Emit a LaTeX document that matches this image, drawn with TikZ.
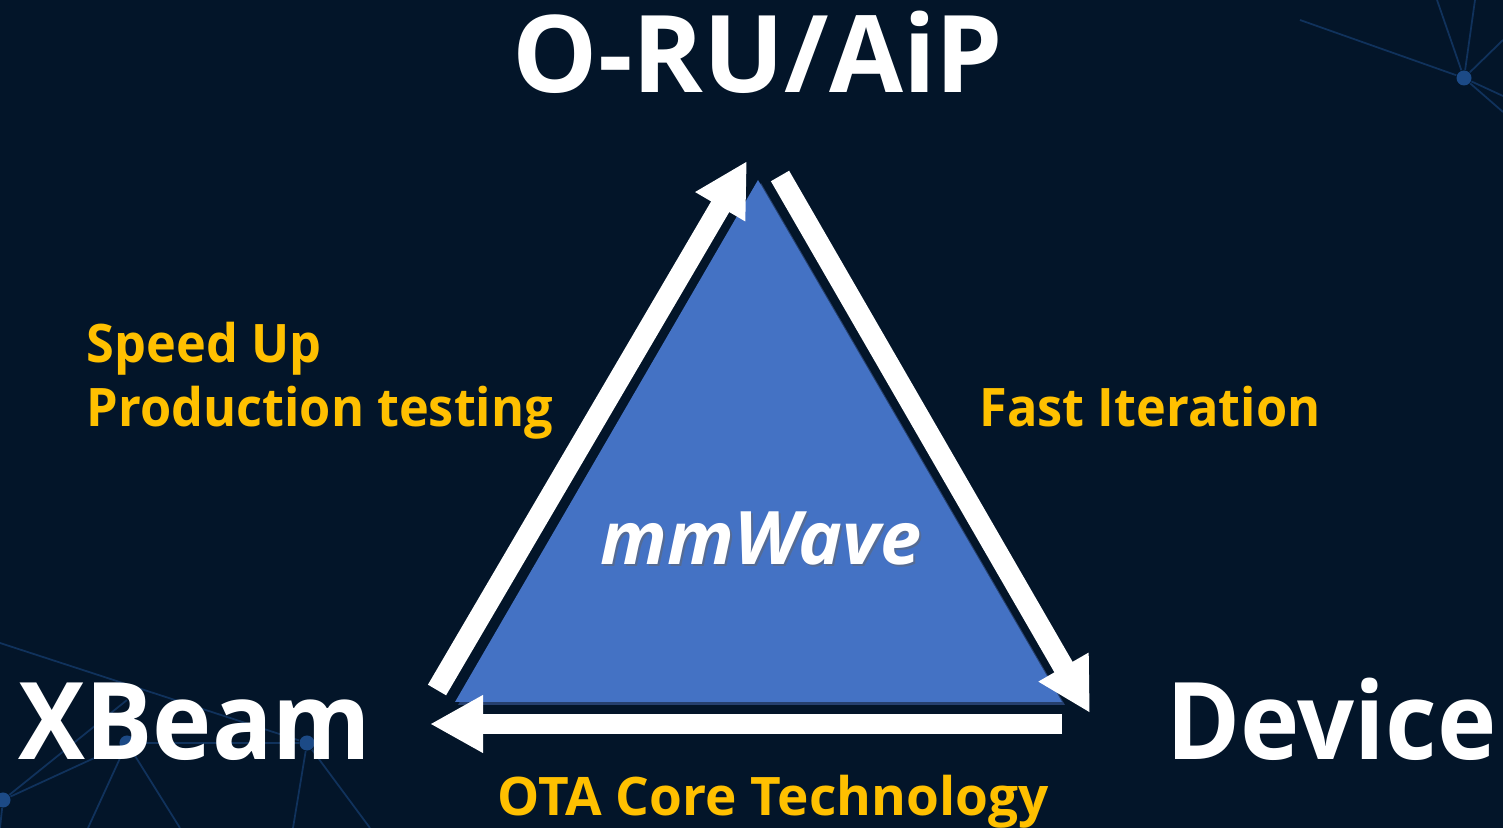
\documentclass[tikz,border=0pt]{standalone}
\usepackage{fontspec}
\setmainfont{Open Sans}
\newfontfamily\slimfont{Open Sans}[FakeStretch=0.935]
\newfontfamily\tagfont{Open Sans}[FakeStretch=0.95]
\usetikzlibrary{arrows.meta}
\definecolor{slideBg}{HTML}{031529}
\definecolor{waveBlue}{HTML}{4472C4}
\definecolor{waveShade}{HTML}{26406E}
\definecolor{tagYellow}{HTML}{FFC000}
\definecolor{netBlue}{HTML}{1C4A86}
\tikzset{
  corner/.style={text=white,font=\bfseries\fontsize{30.5}{36}\selectfont,inner sep=0pt},
  tag/.style={text=tagYellow,font=\tagfont\bfseries\fontsize{15.1}{18.2}\selectfont,inner sep=0pt,align=left},
  core/.style={font=\bfseries\itshape\fontsize{21}{25}\selectfont,inner sep=0pt},
  flow/.style={-{Triangle[length=5.3mm,width=5.4mm]},draw=white,line width=2.1mm},
  netline/.style={draw=netBlue,line width=0.5pt,opacity=0.55},
  netdot/.style={circle,fill=netBlue,inner sep=0pt,minimum size=1.5mm}
}

\begin{document}
\begin{tikzpicture}[x=0.01cm,y=-0.01cm]
\fill[slideBg] (0,0) rectangle (1503,828);
\useasboundingbox (0,0) rectangle (1503,828);

% background network
\node[netdot] (hubA) at (1464,78) {};
\node[netdot] (hubB) at (127,743) {};
\node[netdot] (hubC) at (307,743) {};
\node[netdot] (hubD) at (3,800) {};
\draw[netline] (1300,20) -- (hubA);
\draw[netline] (1437,0) -- (hubA);
\draw[netline] (1475,0) -- (hubA);
\draw[netline] (1503,40) -- (hubA);
\draw[netline] (1503,96) -- (hubA);
\draw[netline] (1503,112) -- (hubA);
\draw[netline] (0,643) -- (hubC);
\draw[netline] (hubD) -- (hubB) -- (hubC);
\draw[netline] (hubD) -- (127,700);
\draw[netline] (hubB) -- (88,828);
\draw[netline] (hubB) -- (180,828);
\draw[netline] (hubC) -- (293,828);
\draw[netline] (hubC) -- (370,828);
\draw[netline] (hubD) -- (0,828);

% triangle
\coordinate (apex) at (758,180);
\coordinate (lowL) at (455,702);
\coordinate (lowR) at (1062,702);
\fill[waveShade] ([shift={(3,3)}]apex) -- ([shift={(3,3)}]lowR) -- ([shift={(3,3)}]lowL) -- cycle;
\fill[waveBlue] (apex) -- (lowR) -- (lowL) -- cycle;

% arrows
\coordinate (tailL) at (437,690);
\coordinate (tipL) at (747,161);
\coordinate (tailR) at (780,176);
\coordinate (tipR) at (1090,713);
\coordinate (tailB) at (1062,724);
\coordinate (tipB) at (430,724);
\draw[flow] (tailL) -- (tipL);
\draw[flow] (tailR) -- (tipR);
\draw[flow,line width=1.9mm] (tailB) -- (tipB);

% labels
\node[corner,anchor=base] (oru) at (758,93) {O-RU/AiP};
\node[corner,font=\slimfont\bfseries\fontsize{30.5}{36}\selectfont,anchor=base west] (xbeam) at (18,759) {XBeam};
\node[corner,font=\slimfont\bfseries\fontsize{30.5}{36}\selectfont,anchor=base east] (device) at (1497,759) {Device};
\node[tag,anchor=base west] (speed) at (86,427) {Speed Up\\Production testing};
\node[tag,anchor=base west] (fast) at (979,427) {Fast Iteration};
\node[tag,font=\bfseries\fontsize{15.1}{18.2}\selectfont,anchor=base] (ota) at (773,815) {OTA Core Technology};
\node[core,text=black!60,opacity=0.5,anchor=base] (waveShadow) at (763,567) {mmWave};
\node[core,text=white,anchor=base] (wave) at (761,565) {mmWave};
\end{tikzpicture}
\end{document}
